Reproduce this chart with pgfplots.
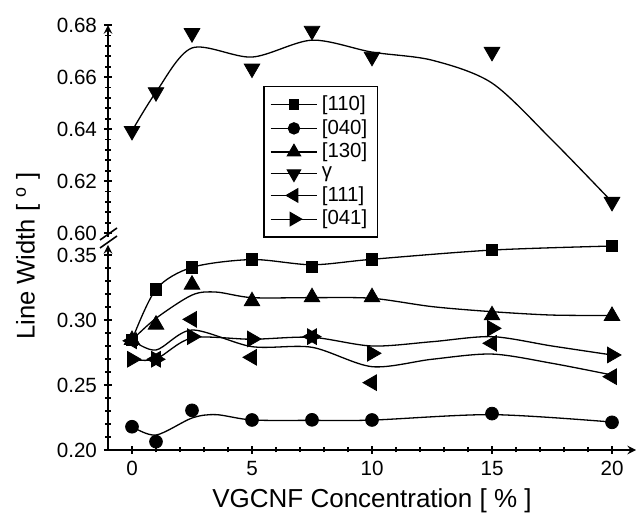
\documentclass[border=0pt]{standalone}
\usepackage{fontspec}
\setmainfont{Liberation Sans}
\usepackage{pgfplots}
\pgfplotsset{compat=1.18}

\pgfplotsset{
  brk/.style={
    scale only axis, width=264pt, xmin=-1, xmax=21, clip=false,
    axis line style={line width=0.9pt,-},
    tick style={line width=0.9pt, black},
    tick align=outside, major tick length=4pt, minor tick length=2.5pt,
    ticklabel style={font=\fontsize{10.3}{12}\selectfont},
    minor y tick num=4,
    /pgf/number format/assume math mode=true,
    yticklabel style={/pgf/number format/fixed, /pgf/number format/fixed zerofill, /pgf/number format/precision=2},
  },
  crv/.style={black, line width=0.65pt, smooth, no marks, forget plot},
  mk/.style={black, only marks, forget plot, mark options={solid, fill=black}},
}

\begin{document}
\begin{tikzpicture}
% lower part
\begin{axis}[brk, at={(0,0)}, anchor=south west, height=102.5pt,
  ymin=0.20, ymax=0.3577, ytick={0.20,0.25,0.30,0.35},
  axis x line=bottom, axis y line=left,
  xtick={0,5,10,15,20}, minor x tick num=4]
% [110]
\addplot[crv] coordinates {(0,0.2846) (1,0.3236) (2.5,0.3405) (5,0.3465) (7.5,0.3425) (10,0.3467) (15,0.3538) (20,0.3569)};
\addplot[mk, mark=square*, mark size=2.9pt] coordinates {(0,0.2846) (1,0.3236) (2.5,0.3405) (5,0.3467) (7.5,0.341) (10,0.3467) (15,0.3538) (20,0.3569)};
% [040]
\addplot[crv] coordinates {(0,0.218) (1,0.2115) (2.5,0.2246) (3.5,0.2272) (5,0.2231) (7.5,0.2228) (10,0.2230) (15,0.2272) (20,0.2215)};
\addplot[mk, mark=*, mark size=3.2pt] coordinates {(0,0.2179) (1,0.2064) (2.5,0.2305) (5,0.2231) (7.5,0.2232) (10,0.2231) (15,0.2280) (20,0.2213)};
% [130]
\addplot[crv] coordinates {(0,0.2846) (1,0.3013) (2.5,0.3192) (3.5,0.3215) (5,0.3172) (7.5,0.3172) (10,0.3167) (12.5,0.3103) (15,0.3064) (17.5,0.3038) (20,0.3035)};
\addplot[mk, mark=triangle*, mark size=4.5pt] coordinates {(0,0.2846) (1,0.2964) (2.5,0.3272) (5,0.3144) (7.5,0.3175) (10,0.3175) (15,0.3036) (20,0.3031)};
% [111]
\addplot[crv] coordinates {(0,0.2846) (1,0.2769) (2.5,0.2923) (5,0.2795) (7.5,0.279) (10,0.2641) (12.5,0.2698) (15,0.2738) (17.5,0.2667) (20,0.2577)};
\addplot[mk, mark=triangle*, mark size=4.5pt, mark options={rotate=90}] coordinates {(0,0.2840) (1,0.2698) (2.5,0.3005) (5,0.2713) (7.5,0.2872) (10,0.2518) (15,0.2821) (20,0.2564)};
% [041]
\addplot[crv] coordinates {(0,0.2698) (1,0.2700) (2.5,0.2862) (5,0.2852) (7.5,0.2867) (10,0.2800) (12.5,0.2833) (15,0.2872) (17.5,0.2800) (20,0.2731)};
\addplot[mk, mark=triangle*, mark size=4.5pt, mark options={rotate=-90}] coordinates {(0,0.2698) (1,0.2698) (2.5,0.2872) (5,0.2854) (7.5,0.2872) (10,0.2744) (15,0.2936) (20,0.2731)};
\end{axis}
% upper part
\begin{axis}[brk, at={(0,106.5pt)}, anchor=south west, height=105.95pt,
  ymin=0.5985, ymax=0.68, ytick={0.60,0.62,0.64,0.66,0.68},
  axis x line=none, axis y line=left,
  legend style={at={(0.2955,0)}, anchor=south west, draw=black, line width=0.6pt,
    outer sep=0pt, font=\fontsize{10.2}{12}\selectfont, row sep=-1.05pt,
    inner xsep=3pt, inner ysep=2.5pt},
  legend cell align=left,
  legend image code/.code={\draw[mark repeat=2,mark phase=2,#1] plot coordinates {(0cm,0cm) (0.41cm,0cm) (0.82cm,0cm)};}]
% gamma
\addplot[crv] coordinates {(0,0.6393) (1,0.6542) (2.5,0.6712) (5,0.6677) (7.5,0.6742) (10,0.6696) (12.5,0.6665) (15,0.6577) (17.5,0.6358) (20,0.6120)};
\addplot[mk, mark=triangle*, mark size=4.5pt, mark options={rotate=180}] coordinates {(0,0.6393) (1,0.6542) (2.5,0.6769) (5,0.6633) (7.5,0.6778) (10,0.6678) (15,0.6697) (20,0.6120)};
\addlegendimage{black, line width=0.6pt, mark=square*, mark size=2.4pt, mark options={fill=black}}
\addlegendentry{[110]}
\addlegendimage{black, line width=0.6pt, mark=*, mark size=2.8pt, mark options={fill=black}}
\addlegendentry{[040]}
\addlegendimage{black, line width=0.6pt, mark=triangle*, mark size=3.8pt, mark options={fill=black}}
\addlegendentry{[130]}
\addlegendimage{black, line width=0.6pt, mark=triangle*, mark size=3.8pt, mark options={fill=black, rotate=180}}
\addlegendentry{γ}
\addlegendimage{black, line width=0.6pt, mark=triangle*, mark size=3.8pt, mark options={fill=black, rotate=90}}
\addlegendentry{[111]}
\addlegendimage{black, line width=0.6pt, mark=triangle*, mark size=3.8pt, mark options={fill=black, rotate=-90}}
\addlegendentry{[041]}
\end{axis}
% axis break marks
\draw[line width=0.8pt] (-4pt,105pt) -- (4.5pt,111pt);
\draw[line width=0.8pt] (-4pt,101pt) -- (4.5pt,107pt);
% axis titles
\node[rotate=90, font=\fontsize{12.8}{14}\selectfont] at (-40pt,97pt) {Line Width [ \textsuperscript{o} ]};
\node[anchor=base, font=\fontsize{13}{15}\selectfont] at (132pt,-29pt) {VGCNF Concentration [ \% ]};
\pgfresetboundingbox
\path[use as bounding box] (-54pt,-31.5pt) rectangle (264pt,225pt);
\end{tikzpicture}
\end{document}
